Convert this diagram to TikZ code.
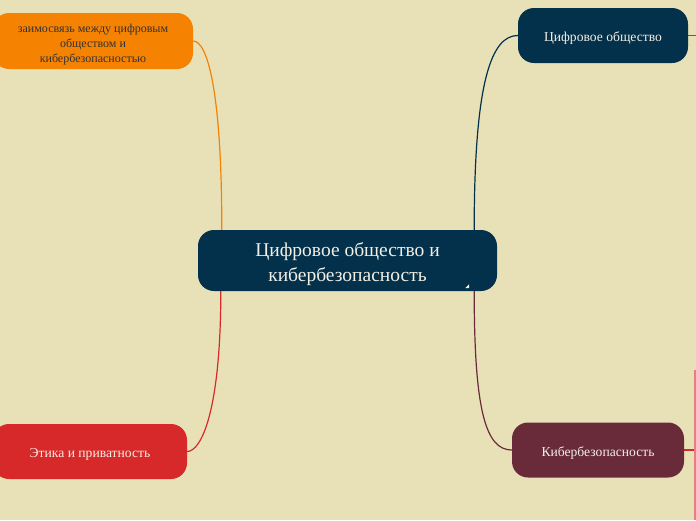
\documentclass[tikz,border=0pt]{standalone}
\usepackage{fontspec}
\setmainfont{Liberation Serif}
\usetikzlibrary{positioning}

\definecolor{paper}{HTML}{E8E1B8}
\definecolor{navy}{HTML}{03304A}
\definecolor{tangerine}{HTML}{F58200}
\definecolor{crimson}{HTML}{D8292A}
\definecolor{wine}{HTML}{692A39}
\definecolor{ink}{HTML}{F2EFE4}

\begin{document}
\begin{tikzpicture}[
    x=1pt, y=-1pt,
    topic/.style={rounded corners=16pt, minimum width=170pt, minimum height=55pt, align=center, font=\fontsize{13.6}{16}\selectfont, text=ink, inner sep=0pt, text height=15pt, text depth=3pt},
    main/.style={rounded corners=16pt, minimum width=299pt, minimum height=61pt, align=center, font=\fontsize{19.5}{25}\selectfont, text=ink, fill=navy, inner sep=0pt, text height=46.7pt, text depth=4.3pt},
    link/.style={line width=1.2pt}
]
\useasboundingbox (0,0) rectangle (696,520);
\fill[paper] (0,0) rectangle (696,520);

\node[main] (root) at (347.5,260.5) {Цифровое общество и\\кибербезопасность};
\node[topic, fill=navy] (society) at (603,35.5) {Цифровое общество};
\node[topic, fill=tangerine, minimum width=200pt, minimum height=56pt, text=black!80, font=\fontsize{12}{15}\selectfont, text height=46.4pt, text depth=2.6pt] (interplay) at (93,41) {заимосвязь между цифровым\\обществом и\\кибербезопасностью};
\node[topic, fill=crimson, minimum width=194pt] (ethics) at (90,451.5) {Этика и приватность};
\node[topic, fill=wine, minimum width=172pt] (cyber) at (598,450) {Кибербезопасность};

% small mark in the root box
\fill[ink] ([xshift=-28pt,yshift=7pt]root.south east) -- ++(-4,4) -- ++(4,0) -- cycle;

% branches
\draw[link, tangerine] ([xshift=24pt]root.north west) .. controls ++(0,-140) and ++(14,0) .. (interplay.east);
\draw[link, crimson] ([xshift=23pt]root.south west) .. controls ++(0,120) and ++(14,0) .. (ethics.east);
\draw[link, navy] ([xshift=-23pt]root.north east) .. controls ++(0,-150) and ++(-26,0) .. (society.west);
\draw[link, wine] ([xshift=-23pt]root.south east) .. controls ++(0,120) and ++(-26,0) .. (cyber.west);

% branches running off the page
\coordinate (societyout) at (696,35.5);
\coordinate (cybertop) at (695,370);
\coordinate (cyberbot) at (695,520);
\draw[link, crimson] (society.east) -- (societyout);
\draw[link, crimson] (cyber.east) -- (cyber.east -| cybertop);
\draw[link, crimson!60] (cybertop) -- (cyberbot);
\end{tikzpicture}
\end{document}
